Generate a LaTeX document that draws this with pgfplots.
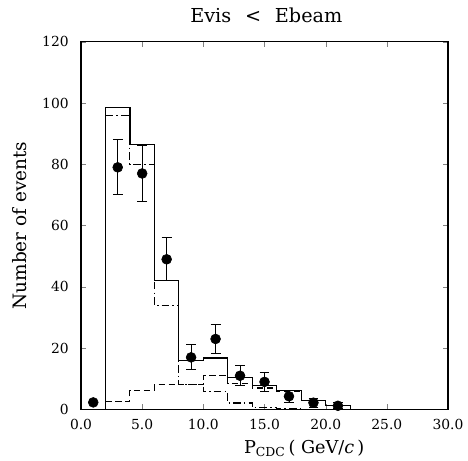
\documentclass[border=0pt]{standalone}
\usepackage{fontspec}
\setmainfont{DejaVu Serif}
\usepackage{pgfplots}
\pgfplotsset{compat=1.18}
\begin{document}
\begin{tikzpicture}
\begin{axis}[
  name=ax,
  scale only axis,
  width=238.5pt, height=239pt,
  xmin=0, xmax=30, ymin=0, ymax=120,
  xtick={0,5,...,30},
  ytick={0,20,...,120},
  tick align=inside,
  major tick length=3.5pt,
  minor tick num=0,
  tick label style={font=\fontsize{9}{10}\selectfont},
  xticklabel style={/pgf/number format/fixed, /pgf/number format/fixed zerofill, /pgf/number format/precision=1, yshift=-2.5pt},
  yticklabel style={xshift=-4.5pt},
  /pgf/number format/assume math mode=true,
  axis line style={line width=0.8pt},
  title={Evis\hspace{5pt} < \hspace{5pt}Ebeam},
  title style={at={(axis description cs:0.505,1.073)}, anchor=center, yshift=-6pt, font=\fontsize{12.5}{15}\selectfont},
  xlabel={P\textsubscript{CDC}\,( GeV/\textit{c}\,)},
  xlabel style={at={(axis description cs:0.608,-0.106)}, anchor=center, font=\fontsize{11.5}{14}\selectfont},
  ylabel={Number of events},
  ylabel style={at={(axis description cs:-0.166,0.5)}, anchor=center, font=\fontsize{12}{14}\selectfont},
  clip=false,
]
% total (solid)
\addplot[const plot, black, line width=0.8pt] coordinates {
 (0,0) (2,98.5) (4,86.5) (6,42) (8,16) (10,16.8) (12,10.4) (14,7.7) (16,6.2) (18,2.8) (20,1.4) (22,0) (30,0)};
% dash-dot component
\addplot[const plot, black, line width=0.7pt, dash pattern=on 5pt off 2pt on 1pt off 2pt] coordinates {
 (2,96) (4,80) (6,34) (8,8) (10,5.8) (12,2.1) (14,0.6) (16,0.2) (18,0)};
% dashed component
\addplot[const plot, black, line width=0.7pt, dash pattern=on 4pt off 2.5pt] coordinates {
 (2,2.5) (4,6.3) (6,8) (8,8.2) (10,11) (12,8.5) (14,7) (16,6) (18,2.8) (20,1.4) (22,0)};
% data
\addplot[only marks, mark=*, mark size=3.2pt, black,
  error bars/.cd, y dir=both, y explicit,
  error bar style={line width=0.6pt},
  error mark options={rotate=90, mark size=3.2pt, line width=0.6pt}]
 coordinates {
 (1,2.3) +- (0,0)
 (3,79) +- (0,9)
 (5,77) +- (0,9)
 (7,49) +- (0,7)
 (9,17) +- (0,4.1)
 (11,23) +- (0,4.7)
 (13,11) +- (0,3.3)
 (15,9) +- (0,3)
 (17,4.3) +- (0,2)
 (19,2.2) +- (0,1.5)
 (21,1.2) +- (0,1)
};
\end{axis}
\pgfresetboundingbox
\path (ax.south west) ++(-52.65pt,-33pt) coordinate (bl);
\path (ax.north east) ++(13pt,27.1pt) coordinate (tr);
\path[use as bounding box] (bl) rectangle (tr);
\end{tikzpicture}
\end{document}
